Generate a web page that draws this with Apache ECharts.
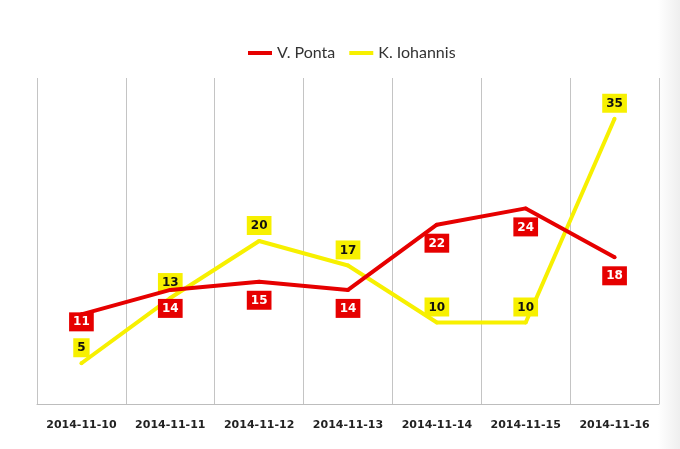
<!DOCTYPE html>
<html>
<head>
<meta charset="utf-8">
<script src="https://cdn.jsdelivr.net/npm/echarts@6/dist/echarts.min.js"></script>
<style>
  html, body { margin: 0; padding: 0; background: #fff; }
  #chart { width: 680px; height: 449px; }
</style>
</head>
<body>
<div id="chart"></div>
<script>
const dates = ['2014-11-10', '2014-11-11', '2014-11-12', '2014-11-13', '2014-11-14', '2014-11-15', '2014-11-16']
const ponta = [11, 14, 15, 14, 22, 24, 18]
const iohannis = [5, 13, 20, 17, 10, 10, 35]

const myChart = echarts.init(document.getElementById('chart'))

// first red label sits tighter to the line, like in the original
const pontaData = ponta.map((v, i) => (i === 0 ? { value: v, label: { distance: -4 } } : v))

const option = {
  backgroundColor: '#fff',
  animation: false,
  graphic: [
    {
      type: 'rect',
      right: 0,
      top: 0,
      shape: { width: 22, height: 449 },
      style: {
        fill: {
          type: 'linear', x: 0, y: 0, x2: 1, y2: 0,
          colorStops: [
            { offset: 0, color: 'rgba(225,225,225,0)' },
            { offset: 1, color: 'rgba(225,225,225,0.55)' }
          ]
        }
      },
      silent: true
    }
  ],
  legend: {
    top: 40,
    left: 243,
    itemWidth: 24,
    itemHeight: 4,
    itemGap: 14,
    icon: 'rect',
    textStyle: { color: '#333', fontSize: 16, fontFamily: 'Lato' },
    data: ['V. Ponta', 'K. Iohannis']
  },
  grid: { left: 37, right: 21, top: 78, bottom: 45 },
  xAxis: {
    type: 'category',
    boundaryGap: true,
    data: dates,
    axisLine: { lineStyle: { color: '#bdbdbd', width: 1 } },
    axisTick: { show: false },
    splitLine: { show: true, interval: 0, lineStyle: { color: '#c4c4c4', width: 1 } },
    axisLabel: { color: '#222', fontWeight: 'bold', fontSize: 11, margin: 16, interval: 0, fontFamily: 'DejaVu Sans' }
  },
  yAxis: {
    type: 'value',
    min: 0,
    max: 40,
    interval: 10,
    show: false,
    splitLine: { show: false }
  },
  series: [
    {
      name: 'V. Ponta',
      type: 'line',
      data: pontaData,
      color: '#e60000',
      symbol: 'circle',
      symbolSize: 4,
      showSymbol: true,
      itemStyle: { color: '#e60000' },
      lineStyle: { width: 4, color: '#e60000' },
      label: {
        show: true,
        position: 'bottom',
        distance: 7,
        color: '#fff',
        backgroundColor: '#e60000',
        fontWeight: 'bold',
        fontSize: 12,
        padding: [4, 4, 3, 4],
        fontFamily: 'DejaVu Sans'
      },
      z: 3
    },
    {
      name: 'K. Iohannis',
      type: 'line',
      data: iohannis,
      color: '#f7f000',
      symbol: 'circle',
      symbolSize: 4,
      showSymbol: true,
      itemStyle: { color: '#f7f000' },
      lineStyle: { width: 4, color: '#f7f000' },
      label: {
        show: true,
        position: 'top',
        distance: 4,
        color: '#111',
        backgroundColor: '#f7f000',
        fontWeight: 'bold',
        fontSize: 12,
        padding: [4, 4, 3, 4],
        fontFamily: 'DejaVu Sans'
      },
      z: 2
    }
  ]
}

myChart.setOption(option)
</script>
</body>
</html>
